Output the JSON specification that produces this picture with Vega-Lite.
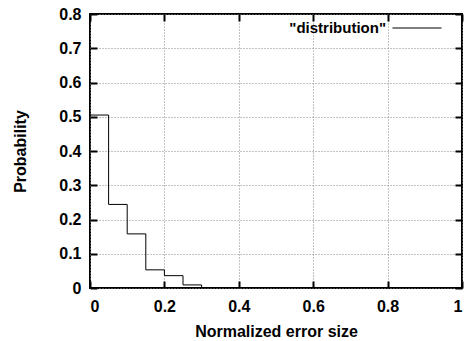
{
  "$schema": "https://vega.github.io/schema/vega-lite/v6.json",
  "autosize": {"type": "none"},
  "width": 372,
  "height": 274,
  "padding": {"left": 90, "top": 14, "right": 3, "bottom": 53},
  "background": "white",
  "config": {
    "view": {"stroke": "black", "strokeWidth": 2},
    "font": "Liberation Sans",
    "axis": {
      "labelFont": "Liberation Sans",
      "labelFontWeight": "bold",
      "labelFontSize": 16,
      "labelColor": "black",
      "titleFont": "Liberation Sans",
      "titleFontWeight": "bold",
      "titleFontSize": 16,
      "titleColor": "black",
      "domain": false,
      "tickColor": "black",
      "tickWidth": 2,
      "tickSize": -7,
      "gridColor": "#888888",
      "gridDash": [1, 2],
      "gridWidth": 1,
      "gridOpacity": 1
    },
    "legend": {
      "orient": "none",
      "legendX": 302,
      "legendY": -11,
      "symbolType": "stroke",
      "symbolSize": 2401,
      "symbolStrokeWidth": 1,
      "labelAlign": "right",
      "labelOffset": -56,
      "labelFont": "Liberation Sans",
      "labelFontWeight": "bold",
      "labelFontSize": 15,
      "labelColor": "black"
    }
  },
  "data": {
    "values": [
      {"x": 0.0, "p": 0.505, "series": "\"distribution\""},
      {"x": 0.05, "p": 0.244, "series": "\"distribution\""},
      {"x": 0.1, "p": 0.158, "series": "\"distribution\""},
      {"x": 0.15, "p": 0.053, "series": "\"distribution\""},
      {"x": 0.2, "p": 0.036, "series": "\"distribution\""},
      {"x": 0.25, "p": 0.009, "series": "\"distribution\""},
      {"x": 0.3, "p": 0.0, "series": "\"distribution\""}
    ]
  },
  "layer": [
    {
      "mark": {"type": "line", "interpolate": "step-after", "strokeWidth": 1, "clip": true},
      "encoding": {
        "x": {
          "field": "x", "type": "quantitative",
          "scale": {"domain": [0, 1], "nice": false},
          "axis": {"orient": "bottom", "values": [0, 0.2, 0.4, 0.6, 0.8, 1], "format": "~g", "title": "Normalized error size", "labelPadding": 17, "titlePadding": 9, "grid": true}
        },
        "y": {
          "field": "p", "type": "quantitative",
          "scale": {"domain": [0, 0.8], "nice": false},
          "axis": {"orient": "left", "values": [0, 0.1, 0.2, 0.3, 0.4, 0.5, 0.6, 0.7, 0.8], "format": "~g", "title": "Probability", "labelPadding": 16, "titlePadding": 30, "grid": true}
        },
        "color": {
          "field": "series", "type": "nominal",
          "scale": {"range": ["black"]},
          "legend": {"title": null}
        }
      }
    },
    {
      "mark": {"type": "line", "interpolate": "step-after", "opacity": 0},
      "encoding": {
        "x": {
          "field": "x", "type": "quantitative",
          "axis": {"orient": "top", "values": [0, 0.2, 0.4, 0.6, 0.8, 1], "labels": false, "title": null, "grid": false}
        },
        "y": {
          "field": "p", "type": "quantitative",
          "axis": {"orient": "right", "values": [0, 0.1, 0.2, 0.3, 0.4, 0.5, 0.6, 0.7, 0.8], "labels": false, "title": null, "grid": false}
        }
      }
    }
  ],
  "resolve": {"axis": {"x": "independent", "y": "independent"}}
}
